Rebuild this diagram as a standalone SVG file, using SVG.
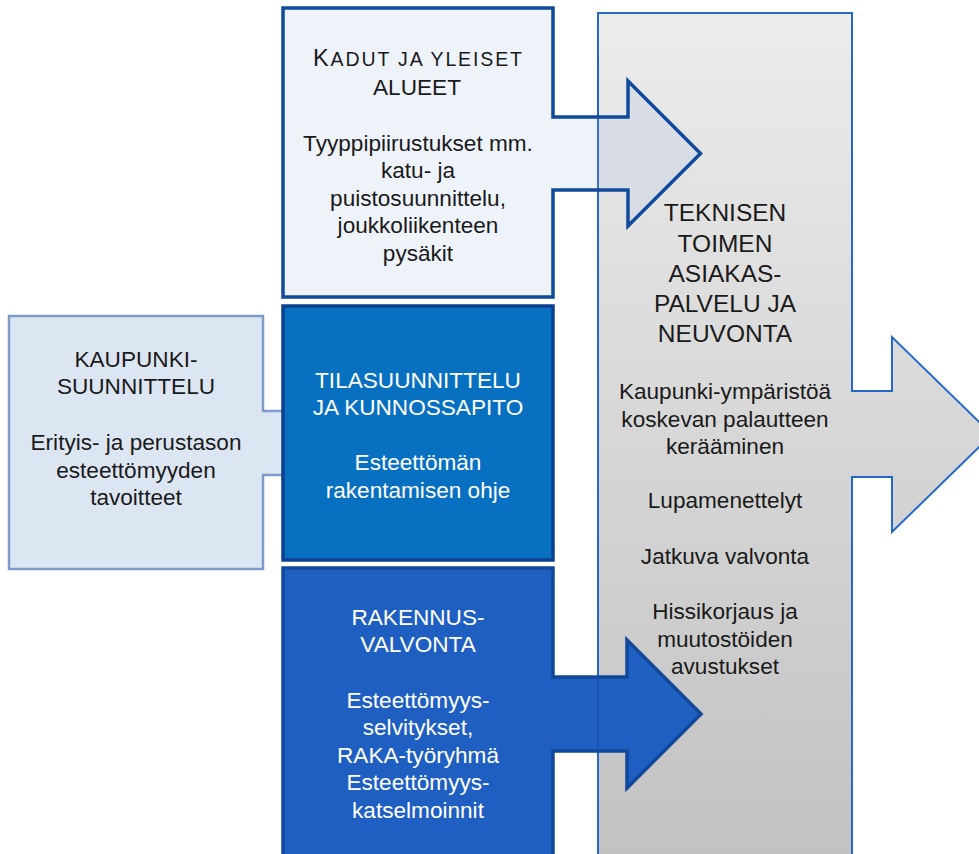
<svg xmlns="http://www.w3.org/2000/svg" width="979" height="854" viewBox="0 0 979 854">
<style>
  text { font-family: "Liberation Sans", Arial, sans-serif; text-anchor: middle; }
  .body { font-size: 22.6px; fill: #1a1a1a; }
  .bodyw { font-size: 22.6px; fill: #ffffff; }
  .ptitle { font-size: 24.5px; fill: #1a1a1a; }
  .outline-dark { fill: none; stroke: #0f4a9b; stroke-width: 3.5; stroke-linejoin: miter; }
</style>
<defs>
  <linearGradient id="panelGrad" x1="0" y1="0" x2="0" y2="1">
    <stop offset="0" stop-color="#ececec"/>
    <stop offset="1" stop-color="#c1c1c1"/>
  </linearGradient>
  <clipPath id="panelClip">
    <rect x="598" y="0" width="400" height="860"/>
  </clipPath>
</defs>

<g id="panel">
  <path d="M598,13 H852 V391 H892 V337 L992,434.5 L892,532 V477 H852 V870 H598 Z" fill="url(#panelGrad)" stroke="#2468cc" stroke-width="2"/>
  <text class="ptitle" x="725" y="221">TEKNISEN</text>
  <text class="ptitle" x="725" y="251.5">TOIMEN</text>
  <text class="ptitle" x="725" y="281.5">ASIAKAS-</text>
  <text class="ptitle" x="725" y="312">PALVELU JA</text>
  <text class="ptitle" x="725" y="342">NEUVONTA</text>
  <text class="body" x="725" y="399">Kaupunki-ympäristöä</text>
  <text class="body" x="725" y="426.5">koskevan palautteen</text>
  <text class="body" x="725" y="454">kerääminen</text>
  <text class="body" x="725" y="508">Lupamenettelyt</text>
  <text class="body" x="725" y="563.5">Jatkuva valvonta</text>
  <text class="body" x="725" y="619">Hissikorjaus ja</text>
  <text class="body" x="725" y="646.5">muutostöiden</text>
  <text class="body" x="725" y="674">avustukset</text>
</g>

<g id="kaupunki">
  <path d="M9,316 H263 V411 H300 V475 H263 V569 H9 Z" fill="#dce6f2" stroke="#7e9bc8" stroke-width="2.5"/>
  <text class="body" x="136" y="367">KAUPUNKI-</text>
  <text class="body" x="136" y="394">SUUNNITTELU</text>
  <text class="body" x="136" y="450">Erityis- ja perustason</text>
  <text class="body" x="136" y="477.5">esteettömyyden</text>
  <text class="body" x="136" y="505">tavoitteet</text>
</g>

<g id="kadut">
  <path d="M283,8 H553 V117 H628 V81 L700.5,153.5 L628,226 V190 H553 V297 H283 Z" fill="#eef3fa"/>
  <path d="M283,8 H553 V117 H628 V81 L700.5,153.5 L628,226 V190 H553 V297 H283 Z" fill="#d8dde6" clip-path="url(#panelClip)"/>
  <line x1="598" y1="117" x2="598" y2="190" stroke="#2468cc" stroke-width="1.8"/>
  <path class="outline-dark" d="M283,8 H553 V117 H628 V81 L700.5,153.5 L628,226 V190 H553 V297 H283 Z"/>
  <text class="body" x="417.5" y="66" textLength="209" lengthAdjust="spacing"><tspan font-size="23.5">K</tspan><tspan font-size="19.5">ADUT JA YLEISET</tspan></text>
  <text class="body" x="417" y="95">ALUEET</text>
  <text class="body" x="418" y="150.5">Tyyppipiirustukset mm.</text>
  <text class="body" x="418" y="178">katu- ja</text>
  <text class="body" x="418" y="205.5">puistosuunnittelu,</text>
  <text class="body" x="418" y="233">joukkoliikenteen</text>
  <text class="body" x="418" y="260.5">pysäkit</text>
</g>

<g id="tila">
  <rect x="283" y="306" width="270" height="254" fill="#0870c0" stroke="#0b3f8f" stroke-width="3.5"/>
  <text class="bodyw" x="418" y="387.5">TILASUUNNITTELU</text>
  <text class="bodyw" x="418" y="415">JA KUNNOSSAPITO</text>
  <text class="bodyw" x="418" y="470">Esteettömän</text>
  <text class="bodyw" x="418" y="497.5">rakentamisen ohje</text>
</g>

<g id="rakennus">
  <path d="M283,568 H553 V677 H627 V640 L701,714 L627,788 V751 H553 V870 H283 Z" fill="#1f5fc2"/>
  <line x1="598" y1="677" x2="598" y2="751" stroke="#1a52b4" stroke-width="1.8"/>
  <path d="M283,568 H553 V677 H627 V640 L701,714 L627,788 V751 H553 V870 H283 Z" fill="none" stroke="#11489a" stroke-width="3.5"/>
  <text class="bodyw" x="418" y="624.5">RAKENNUS-</text>
  <text class="bodyw" x="418" y="652">VALVONTA</text>
  <text class="bodyw" x="418" y="707.5">Esteettömyys-</text>
  <text class="bodyw" x="418" y="735">selvitykset,</text>
  <text class="bodyw" x="418" y="762.5">RAKA-työryhmä</text>
  <text class="bodyw" x="418" y="790">Esteettömyys-</text>
  <text class="bodyw" x="418" y="817.5">katselmoinnit</text>
</g>

<g id="connectors"></g>
</svg>
